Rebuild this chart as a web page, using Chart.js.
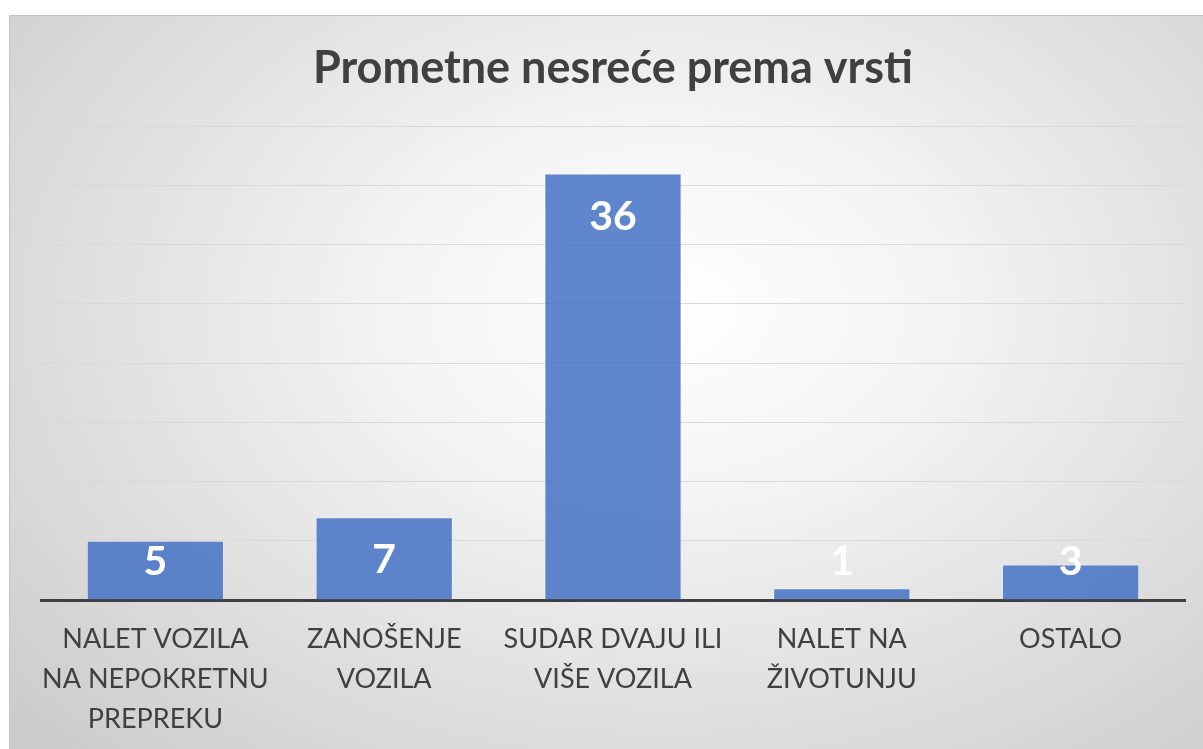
<!DOCTYPE html>
<html>
<head>
<meta charset="utf-8">
<script src="https://cdn.jsdelivr.net/npm/chart.js"></script>
<style>
  html, body { margin: 0; padding: 0; background: #fff; overflow: hidden; }
  #frame {
    position: absolute; left: 9px; top: 15px; width: 1194px; height: 734px; overflow: hidden;
    box-sizing: border-box; border-top: 1px solid #c4c4c4; border-left: 1px solid #c4c4c4;
    background: radial-gradient(ellipse 75% 85% at 55% 40%, #ffffff 0%, #f4f4f4 30%, #e2e2e2 60%, #cbcbcb 100%);
  }
  #output { position: absolute; left: 0; top: 0; }
</style>
</head>
<body>
<div id="frame"><canvas id="output" width="1193" height="753"></canvas></div>
<script>
const title = "Prometne nesreće prema vrsti";
const categories = [
    ["NALET VOZILA", "NA NEPOKRETNU", "PREPREKU"],
    ["ZANOŠENJE", "VOZILA"],
    ["SUDAR DVAJU ILI", "VIŠE VOZILA"],
    ["NALET NA", "ŽIVOTUNJU"],
    ["OSTALO"]
];
const counts = [5, 7, 36, 1, 3];
const yTicks = { min: 0, max: 40, step: 5 };

const fontFamily = "Lato, 'Open Sans', sans-serif";

// white numbers inside the top of each bar
const valueLabels = {
    id: "valueLabels",
    afterDatasetsDraw(chart) {
        const ctx = chart.ctx;
        const meta = chart.getDatasetMeta(0);
        const base = chart.scales.y.getPixelForValue(0);
        ctx.save();
        ctx.fillStyle = "#ffffff";
        ctx.font = "bold 41px " + fontFamily;
        ctx.textAlign = "center";
        ctx.textBaseline = "middle";
        meta.data.forEach((bar, i) => {
            const y = Math.min(bar.y + 43, base - 38);
            ctx.fillText(String(counts[i]), bar.x, y);
        });
        ctx.restore();
    }
};

const chart = new Chart(document.getElementById("output"), {
    type: "bar",
    data: {
        labels: categories,
        datasets: [{
            data: counts,
            backgroundColor: "rgba(68, 114, 196, 0.85)",
            borderColor: "rgba(255, 255, 255, 0.35)",
            borderWidth: 1,
            categoryPercentage: 1,
            barPercentage: 0.6
        }]
    },
    options: {
        responsive: false,
        animation: false,
        layout: { padding: { left: 31, right: 18, top: 0, bottom: 11 } },
        plugins: {
            legend: { display: false },
            tooltip: { enabled: false },
            title: {
                display: true,
                text: title,
                color: "#404040",
                font: { family: fontFamily, size: 45, weight: "bold", lineHeight: 1.2 },
                padding: { top: 25, bottom: 31 }
            }
        },
        scales: {
            x: {
                grid: { display: false, drawTicks: false },
                border: { display: true, color: "#404040", width: 3 },
                ticks: {
                    color: "#404040",
                    padding: 19,
                    font: { family: fontFamily, size: 27, lineHeight: 1.48 },
                    maxRotation: 0,
                    autoSkip: false
                }
            },
            y: {
                min: yTicks.min,
                max: yTicks.max,
                grid: { color: "#d9d9d9", lineWidth: 1, drawTicks: false },
                border: { display: false },
                ticks: { display: false, stepSize: yTicks.step }
            }
        }
    },
    plugins: [valueLabels]
});
</script>
</body>
</html>
